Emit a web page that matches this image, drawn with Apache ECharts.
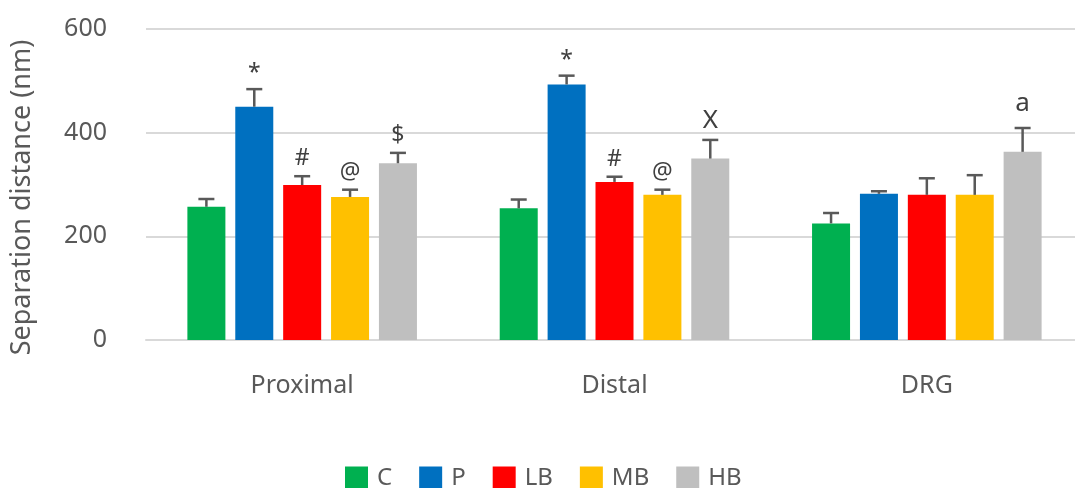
<!DOCTYPE html>
<html>
<head>
<meta charset="utf-8">
<script src="https://cdn.jsdelivr.net/npm/echarts@6/dist/echarts.min.js"></script>
<style>
  html, body { margin: 0; padding: 0; background: #fff; }
  #chart { width: 1075px; height: 488px; }
</style>
</head>
<body>
<div id="chart"></div>
<script>
// Nerve regions on the x axis
var categories = ['Proximal', 'Distal', 'DRG'];
// Treatment groups
var groupNames = ['C', 'P', 'LB', 'MB', 'HB'];
// Mean separation distance (nm) per group, one value per region
var meanC  = [257, 254, 225];
var meanP  = [450, 493, 282];
var meanLB = [299, 305, 280];
var meanMB = [276, 280, 280];
var meanHB = [341, 350, 363];
// Upper error (nm)
var errC  = [15, 17, 20];
var errP  = [34, 17, 5];
var errLB = [17, 10, 32];
var errMB = [14, 10, 38];
var errHB = [20, 36, 46];
// Significance marks drawn above the error bars
var markC  = ['', '', ''];
var markP  = ['*', '*', ''];
var markLB = ['#', '#', ''];
var markMB = ['@', '@', ''];
var markHB = ['$', 'X', 'a'];
// Y axis ticks
var yTicks = [0, 200, 400, 600];

var means = [meanC, meanP, meanLB, meanMB, meanHB];
var errs = [errC, errP, errLB, errMB, errHB];
var marks = [markC, markP, markLB, markMB, markHB];
var colors = ['#00B050', '#0070C0', '#FF0000', '#FFC000', '#BFBFBF'];

var FONT = 'Noto Sans';
var CAT_GAP = 0.265;   // share of the band left empty between categories
var BAR_GAP = 0.26;    // gap between bars, relative to bar width
var nGroups = groupNames.length;

// Extra lift (px) for marks whose glyphs sit low or high in the text box
var markLift = { '*': -2, 'a': 5 };

function errorRenderer(seriesIdx) {
  return function (params, api) {
    var cat = api.value(0);
    var val = api.value(1);
    var err = api.value(2);
    var mark = marks[seriesIdx][params.dataIndex];
    var band = api.size([1, 0])[0];
    var barW = band * (1 - CAT_GAP) / (nGroups + (nGroups - 1) * BAR_GAP);
    var offset = -band / 2 + band * CAT_GAP / 2 + seriesIdx * barW * (1 + BAR_GAP) + barW / 2;
    var base = api.coord([cat, val]);
    var top = api.coord([cat, val + err]);
    var x = base[0] + offset;
    var half = 8;
    var children = [
      { type: 'line', shape: { x1: x, y1: base[1], x2: x, y2: top[1] },
        style: { stroke: '#595959', lineWidth: 2.5 } },
      { type: 'line', shape: { x1: x - half, y1: top[1], x2: x + half, y2: top[1] },
        style: { stroke: '#595959', lineWidth: 2.5 } }
    ];
    if (mark) {
      var big = (mark === 'X' || mark === 'a');
      children.push({
        type: 'text',
        style: {
          text: mark, x: x, y: top[1] - 6 - (markLift[mark] || 0),
          textAlign: 'center', textVerticalAlign: 'bottom',
          fontFamily: FONT, fontSize: big ? 26 : 23, fill: '#404040'
        }
      });
    }
    return { type: 'group', children: children };
  };
}

var series = [];
groupNames.forEach(function (name, i) {
  series.push({
    name: name, type: 'bar',
    data: means[i],
    itemStyle: { color: colors[i] },
    barGap: (BAR_GAP * 100) + '%',
    barCategoryGap: (CAT_GAP * 100) + '%',
    animation: false
  });
});
groupNames.forEach(function (name, i) {
  series.push({
    type: 'custom',
    renderItem: errorRenderer(i),
    data: means[i].map(function (v, k) { return [k, v, errs[i][k]]; }),
    encode: { x: 0, y: 1 },
    z: 3, silent: true, animation: false
  });
});

var chart = echarts.init(document.getElementById('chart'));
chart.setOption({
  backgroundColor: '#fff',
  animation: false,
  textStyle: { fontFamily: FONT },
  grid: { left: 146, right: -8, top: 29, bottom: 148, outerBoundsMode: 'none', containLabel: false },
  legend: {
    data: groupNames,
    top: 461, left: 340,
    itemWidth: 23, itemHeight: 23, itemGap: 27,
    icon: 'rect',
    textStyle: { fontFamily: FONT, fontSize: 24, color: '#595959', padding: [0, 0, 4, 4] }
  },
  xAxis: {
    type: 'category', data: categories,
    axisLine: { lineStyle: { color: '#D9D9D9', width: 2 } },
    axisTick: { show: false },
    axisLabel: { fontFamily: FONT, fontSize: 25, color: '#595959', margin: 33 }
  },
  yAxis: {
    type: 'value', min: yTicks[0], max: yTicks[yTicks.length - 1], interval: yTicks[1] - yTicks[0],
    name: 'Separation distance (nm)', nameLocation: 'middle', nameGap: 110,
    nameTextStyle: { fontFamily: FONT, fontSize: 27, color: '#595959', padding: [0, 26, 0, 0] },
    axisLine: { show: false }, axisTick: { show: false },
    axisLabel: { fontFamily: FONT, fontSize: 25, color: '#595959', margin: 39 },
    splitLine: { lineStyle: { color: '#D9D9D9', width: 2 } }
  },
  series: series
});
</script>
</body>
</html>
